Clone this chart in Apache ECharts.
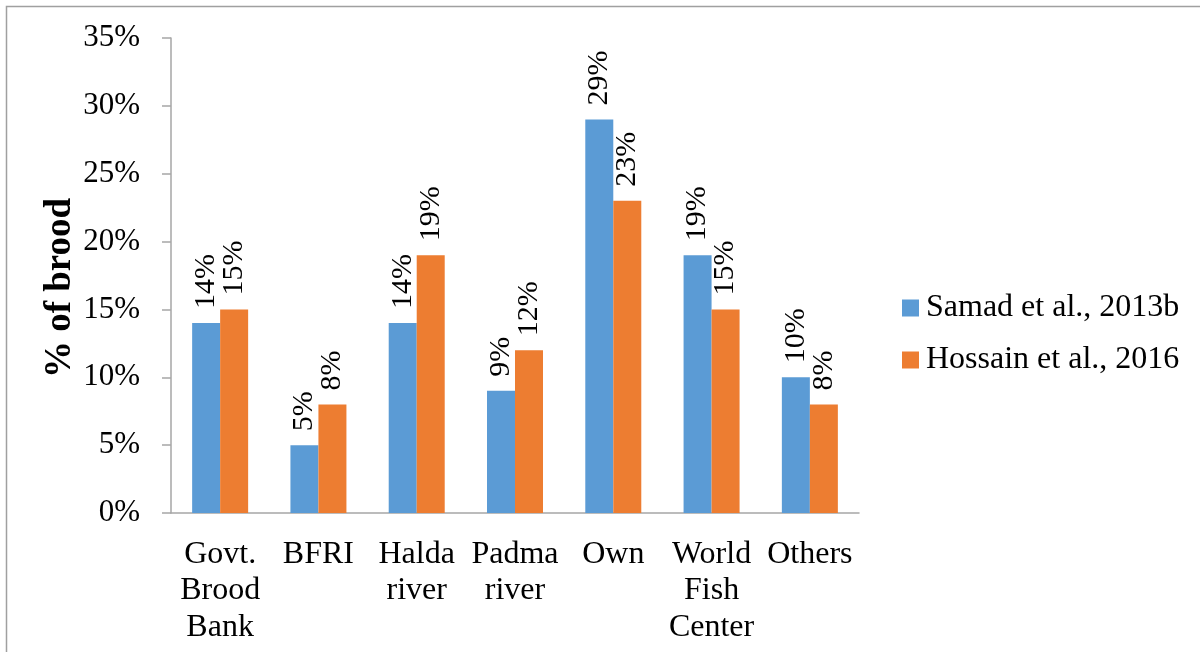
<!DOCTYPE html>
<html>
<head>
<meta charset="utf-8">
<script src="https://cdn.jsdelivr.net/npm/echarts@6/dist/echarts.min.js"></script>
<style>
  html, body { margin: 0; padding: 0; background: #fff; }
  #chart { width: 1200px; height: 652px; }
</style>
</head>
<body>
<div id="chart"></div>
<script>
// Sources of brood fish, share of farms (%)
const categories = ['Govt.\nBrood\nBank', 'BFRI', 'Halda\nriver', 'Padma\nriver', 'Own', 'World\nFish\nCenter', 'Others'];
const seriesNames = ['Samad et al., 2013b', 'Hossain et al., 2016'];
const samad2013b = [14, 5, 14, 9, 29, 19, 10];
const hossain2016 = [15, 8, 19, 12, 23, 15, 8];
const yTicks = { min: 0, max: 35, interval: 5 };
const yTitle = '% of brood';

const FONT = '"Liberation Serif", "Times New Roman", serif';
const AXIS_GRAY = '#a6a6a6';

const barLabel = {
  show: true,
  position: 'top',
  rotate: 90,
  align: 'left',
  verticalAlign: 'middle',
  distance: 14,
  formatter: p => p.value + '%',
  fontFamily: FONT,
  fontSize: 30,
  color: '#000'
};

const chart = echarts.init(document.getElementById('chart'), null, { renderer: 'canvas' });
chart.setOption({
  animation: false,
  backgroundColor: '#fff',
  textStyle: { fontFamily: FONT },
  graphic: [
    {
      type: 'rect',
      shape: { x: 6.5, y: 6.5, width: 1300, height: 800 },
      style: { fill: 'none', stroke: '#a0a0a0', lineWidth: 1.5 },
      silent: true
    },
    {
      type: 'text',
      x: 60,
      y: 288,
      rotation: Math.PI / 2,
      style: {
        text: yTitle,
        font: 'bold 37px ' + FONT,
        fill: '#000',
        align: 'center',
        verticalAlign: 'middle'
      },
      silent: true
    }
  ],
  grid: { left: 171, right: 341, top: 38, bottom: 139, containLabel: false },
  legend: {
    orient: 'vertical',
    left: 902,
    top: 292,
    padding: 0,
    itemWidth: 17,
    itemHeight: 17,
    itemGap: 20,
    icon: 'rect',
    textStyle: { fontFamily: FONT, fontSize: 32, color: '#000', padding: [0, 0, 0, 2] },
    data: seriesNames
  },
  xAxis: {
    type: 'category',
    data: categories,
    axisLine: { show: true, lineStyle: { color: AXIS_GRAY, width: 1.5 } },
    axisTick: { show: false },
    axisLabel: {
      interval: 0,
      margin: 23,
      fontFamily: FONT,
      fontSize: 32,
      lineHeight: 36.5,
      color: '#000'
    }
  },
  yAxis: {
    type: 'value',
    min: yTicks.min,
    max: yTicks.max,
    interval: yTicks.interval,
    axisLine: { show: true, lineStyle: { color: AXIS_GRAY, width: 1.5 } },
    axisTick: { show: true, length: 9, lineStyle: { color: AXIS_GRAY, width: 1.5 } },
    splitLine: { show: false },
    axisLabel: {
      margin: 31,
      formatter: v => v + '%',
      fontFamily: FONT,
      fontSize: 31,
      color: '#000'
    }
  },
  series: [
    {
      name: seriesNames[0],
      type: 'bar',
      data: samad2013b,
      barWidth: 28,
      barGap: '0%',
      itemStyle: { color: '#5B9BD5' },
      label: barLabel
    },
    {
      name: seriesNames[1],
      type: 'bar',
      data: hossain2016,
      barWidth: 28,
      barGap: '0%',
      itemStyle: { color: '#ED7D31' },
      label: barLabel
    }
  ]
});
</script>
</body>
</html>
